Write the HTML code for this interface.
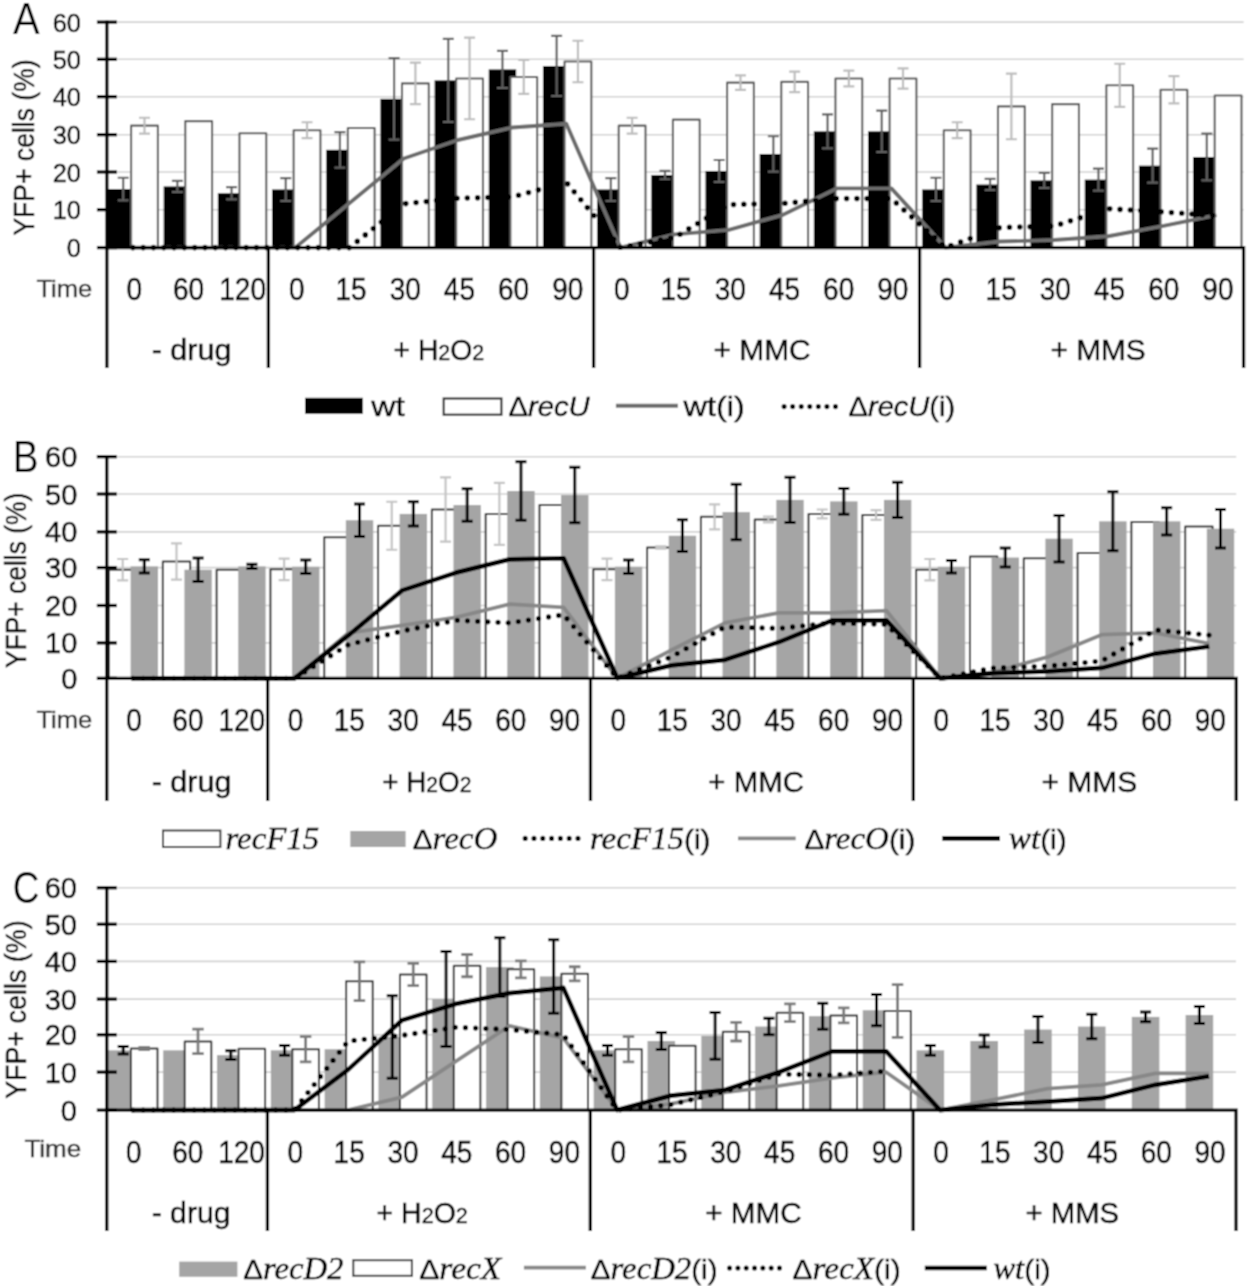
<!DOCTYPE html><html><head><meta charset="utf-8"><style>html,body{margin:0;padding:0;background:#fff;}svg{display:block;}</style></head><body>
<svg width="1248" height="1286" viewBox="0 0 1248 1286">
<defs><filter id="bl" x="0" y="0" width="1248" height="1286" filterUnits="userSpaceOnUse"><feConvolveMatrix order="3" kernelMatrix="1 2 1 2 4 2 1 2 1" divisor="16" edgeMode="duplicate"/></filter></defs>
<g filter="url(#bl)">
<style>text{stroke:currentColor;stroke-width:0.45px;}</style>
<rect width="1248" height="1286" fill="#fff"/>
<line x1="105.80" y1="209.70" x2="1243.58" y2="209.70" stroke="#d2d2d2" stroke-width="1.6"/>
<line x1="105.80" y1="172.00" x2="1243.58" y2="172.00" stroke="#d2d2d2" stroke-width="1.6"/>
<line x1="105.80" y1="134.70" x2="1243.58" y2="134.70" stroke="#d2d2d2" stroke-width="1.6"/>
<line x1="105.80" y1="96.70" x2="1243.58" y2="96.70" stroke="#d2d2d2" stroke-width="1.6"/>
<line x1="105.80" y1="59.30" x2="1243.58" y2="59.30" stroke="#d2d2d2" stroke-width="1.6"/>
<line x1="105.80" y1="22.10" x2="1243.58" y2="22.10" stroke="#d2d2d2" stroke-width="1.6"/>
<rect x="106.90" y="189.09" width="30.00" height="58.51" fill="#000"/>
<rect x="163.68" y="186.44" width="27.40" height="61.16" fill="#000"/>
<rect x="217.86" y="193.24" width="27.40" height="54.36" fill="#000"/>
<rect x="272.04" y="189.47" width="27.40" height="58.13" fill="#000"/>
<rect x="326.22" y="149.83" width="27.40" height="97.77" fill="#000"/>
<rect x="380.40" y="98.87" width="27.40" height="148.73" fill="#000"/>
<rect x="434.58" y="80.37" width="27.40" height="167.23" fill="#000"/>
<rect x="488.76" y="69.42" width="27.40" height="178.18" fill="#000"/>
<rect x="542.94" y="66.02" width="27.40" height="181.58" fill="#000"/>
<rect x="597.12" y="189.47" width="27.40" height="58.13" fill="#000"/>
<rect x="651.30" y="175.12" width="27.40" height="72.48" fill="#000"/>
<rect x="705.48" y="170.97" width="27.40" height="76.63" fill="#000"/>
<rect x="759.66" y="153.98" width="27.40" height="93.62" fill="#000"/>
<rect x="813.84" y="131.33" width="27.40" height="116.27" fill="#000"/>
<rect x="868.02" y="131.33" width="27.40" height="116.27" fill="#000"/>
<rect x="922.20" y="189.47" width="27.40" height="58.13" fill="#000"/>
<rect x="976.38" y="184.56" width="27.40" height="63.04" fill="#000"/>
<rect x="1030.56" y="180.40" width="27.40" height="67.20" fill="#000"/>
<rect x="1084.74" y="179.65" width="27.40" height="67.95" fill="#000"/>
<rect x="1138.92" y="165.68" width="27.40" height="81.92" fill="#000"/>
<rect x="1193.10" y="157.00" width="27.40" height="90.60" fill="#000"/>
<path d="M123.20 177.76V200.41M117.70 177.76H128.70M117.70 200.41H128.70" stroke="#5f5f5f" stroke-width="2.2" fill="none"/>
<path d="M177.38 180.78V192.11M171.88 180.78H182.88M171.88 192.11H182.88" stroke="#5f5f5f" stroke-width="2.2" fill="none"/>
<path d="M231.56 187.20V199.28M226.06 187.20H237.06M226.06 199.28H237.06" stroke="#5f5f5f" stroke-width="2.2" fill="none"/>
<path d="M285.74 178.14V200.79M280.24 178.14H291.24M280.24 200.79H291.24" stroke="#5f5f5f" stroke-width="2.2" fill="none"/>
<path d="M339.92 132.09V167.57M334.42 132.09H345.42M334.42 167.57H345.42" stroke="#5f5f5f" stroke-width="2.2" fill="none"/>
<path d="M394.10 58.09V139.63M388.60 58.09H399.60M388.60 139.63H399.60" stroke="#5f5f5f" stroke-width="2.2" fill="none"/>
<path d="M448.28 38.84V121.89M442.78 38.84H453.78M442.78 121.89H453.78" stroke="#5f5f5f" stroke-width="2.2" fill="none"/>
<path d="M502.46 50.92V87.92M496.96 50.92H507.96M496.96 87.92H507.96" stroke="#5f5f5f" stroke-width="2.2" fill="none"/>
<path d="M556.64 35.82V96.22M551.14 35.82H562.14M551.14 96.22H562.14" stroke="#5f5f5f" stroke-width="2.2" fill="none"/>
<path d="M610.82 178.14V200.79M605.32 178.14H616.32M605.32 200.79H616.32" stroke="#5f5f5f" stroke-width="2.2" fill="none"/>
<path d="M665.00 170.97V179.27M659.50 170.97H670.50M659.50 179.27H670.50" stroke="#5f5f5f" stroke-width="2.2" fill="none"/>
<path d="M719.18 160.02V181.91M713.68 160.02H724.68M713.68 181.91H724.68" stroke="#5f5f5f" stroke-width="2.2" fill="none"/>
<path d="M773.36 136.24V171.72M767.86 136.24H778.86M767.86 171.72H778.86" stroke="#5f5f5f" stroke-width="2.2" fill="none"/>
<path d="M827.54 114.34V148.32M822.04 114.34H833.04M822.04 148.32H833.04" stroke="#5f5f5f" stroke-width="2.2" fill="none"/>
<path d="M881.72 110.57V152.09M876.22 110.57H887.22M876.22 152.09H887.22" stroke="#5f5f5f" stroke-width="2.2" fill="none"/>
<path d="M935.90 177.76V201.17M930.40 177.76H941.40M930.40 201.17H941.40" stroke="#5f5f5f" stroke-width="2.2" fill="none"/>
<path d="M990.08 178.89V190.22M984.58 178.89H995.58M984.58 190.22H995.58" stroke="#5f5f5f" stroke-width="2.2" fill="none"/>
<path d="M1044.26 172.85V187.95M1038.76 172.85H1049.76M1038.76 187.95H1049.76" stroke="#5f5f5f" stroke-width="2.2" fill="none"/>
<path d="M1098.44 168.70V190.60M1092.94 168.70H1103.94M1092.94 190.60H1103.94" stroke="#5f5f5f" stroke-width="2.2" fill="none"/>
<path d="M1152.62 148.69V182.67M1147.12 148.69H1158.12M1147.12 182.67H1158.12" stroke="#5f5f5f" stroke-width="2.2" fill="none"/>
<path d="M1206.80 133.59V180.40M1201.30 133.59H1212.30M1201.30 180.40H1212.30" stroke="#5f5f5f" stroke-width="2.2" fill="none"/>
<rect x="131.10" y="125.67" width="26.80" height="121.93" fill="#fff" stroke="#5c5c5c" stroke-width="2.1" stroke-linejoin="round"/>
<rect x="185.28" y="121.14" width="26.80" height="126.46" fill="#fff" stroke="#5c5c5c" stroke-width="2.1" stroke-linejoin="round"/>
<rect x="239.46" y="133.22" width="26.80" height="114.38" fill="#fff" stroke="#5c5c5c" stroke-width="2.1" stroke-linejoin="round"/>
<rect x="293.64" y="130.20" width="26.80" height="117.40" fill="#fff" stroke="#5c5c5c" stroke-width="2.1" stroke-linejoin="round"/>
<rect x="347.82" y="127.93" width="26.80" height="119.67" fill="#fff" stroke="#5c5c5c" stroke-width="2.1" stroke-linejoin="round"/>
<rect x="402.00" y="83.39" width="26.80" height="164.21" fill="#fff" stroke="#5c5c5c" stroke-width="2.1" stroke-linejoin="round"/>
<rect x="456.18" y="78.48" width="26.80" height="169.12" fill="#fff" stroke="#5c5c5c" stroke-width="2.1" stroke-linejoin="round"/>
<rect x="510.36" y="76.97" width="26.80" height="170.63" fill="#fff" stroke="#5c5c5c" stroke-width="2.1" stroke-linejoin="round"/>
<rect x="564.54" y="61.49" width="26.80" height="186.11" fill="#fff" stroke="#5c5c5c" stroke-width="2.1" stroke-linejoin="round"/>
<rect x="618.72" y="125.67" width="26.80" height="121.93" fill="#fff" stroke="#5c5c5c" stroke-width="2.1" stroke-linejoin="round"/>
<rect x="672.90" y="119.63" width="26.80" height="127.97" fill="#fff" stroke="#5c5c5c" stroke-width="2.1" stroke-linejoin="round"/>
<rect x="727.08" y="82.63" width="26.80" height="164.97" fill="#fff" stroke="#5c5c5c" stroke-width="2.1" stroke-linejoin="round"/>
<rect x="781.26" y="81.88" width="26.80" height="165.72" fill="#fff" stroke="#5c5c5c" stroke-width="2.1" stroke-linejoin="round"/>
<rect x="835.44" y="78.48" width="26.80" height="169.12" fill="#fff" stroke="#5c5c5c" stroke-width="2.1" stroke-linejoin="round"/>
<rect x="889.62" y="78.48" width="26.80" height="169.12" fill="#fff" stroke="#5c5c5c" stroke-width="2.1" stroke-linejoin="round"/>
<rect x="943.80" y="130.20" width="26.80" height="117.40" fill="#fff" stroke="#5c5c5c" stroke-width="2.1" stroke-linejoin="round"/>
<rect x="997.98" y="106.41" width="26.80" height="141.19" fill="#fff" stroke="#5c5c5c" stroke-width="2.1" stroke-linejoin="round"/>
<rect x="1052.16" y="104.15" width="26.80" height="143.45" fill="#fff" stroke="#5c5c5c" stroke-width="2.1" stroke-linejoin="round"/>
<rect x="1106.34" y="85.28" width="26.80" height="162.32" fill="#fff" stroke="#5c5c5c" stroke-width="2.1" stroke-linejoin="round"/>
<rect x="1160.52" y="89.81" width="26.80" height="157.79" fill="#fff" stroke="#5c5c5c" stroke-width="2.1" stroke-linejoin="round"/>
<rect x="1214.70" y="95.47" width="26.80" height="152.13" fill="#fff" stroke="#5c5c5c" stroke-width="2.1" stroke-linejoin="round"/>
<path d="M144.50 117.74V133.60M139.00 117.74H150.00M139.00 133.60H150.00" stroke="#bdbdbd" stroke-width="2.2" fill="none"/>
<path d="M307.04 122.27V138.12M301.54 122.27H312.54M301.54 138.12H312.54" stroke="#bdbdbd" stroke-width="2.2" fill="none"/>
<path d="M415.40 62.62V104.15M409.90 62.62H420.90M409.90 104.15H420.90" stroke="#bdbdbd" stroke-width="2.2" fill="none"/>
<path d="M469.58 37.71V119.25M464.08 37.71H475.08M464.08 119.25H475.08" stroke="#bdbdbd" stroke-width="2.2" fill="none"/>
<path d="M523.76 59.98V93.96M518.26 59.98H529.26M518.26 93.96H529.26" stroke="#bdbdbd" stroke-width="2.2" fill="none"/>
<path d="M577.94 40.73V82.25M572.44 40.73H583.44M572.44 82.25H583.44" stroke="#bdbdbd" stroke-width="2.2" fill="none"/>
<path d="M632.12 117.74V133.60M626.62 117.74H637.62M626.62 133.60H637.62" stroke="#bdbdbd" stroke-width="2.2" fill="none"/>
<path d="M740.48 75.46V89.80M734.98 75.46H745.98M734.98 89.80H745.98" stroke="#bdbdbd" stroke-width="2.2" fill="none"/>
<path d="M794.66 71.69V92.07M789.16 71.69H800.16M789.16 92.07H800.16" stroke="#bdbdbd" stroke-width="2.2" fill="none"/>
<path d="M848.84 70.55V86.41M843.34 70.55H854.34M843.34 86.41H854.34" stroke="#bdbdbd" stroke-width="2.2" fill="none"/>
<path d="M903.02 68.29V88.67M897.52 68.29H908.52M897.52 88.67H908.52" stroke="#bdbdbd" stroke-width="2.2" fill="none"/>
<path d="M957.20 122.27V138.12M951.70 122.27H962.70M951.70 138.12H962.70" stroke="#bdbdbd" stroke-width="2.2" fill="none"/>
<path d="M1011.38 73.57V139.26M1005.88 73.57H1016.88M1005.88 139.26H1016.88" stroke="#bdbdbd" stroke-width="2.2" fill="none"/>
<path d="M1119.74 63.76V106.79M1114.24 63.76H1125.24M1114.24 106.79H1125.24" stroke="#bdbdbd" stroke-width="2.2" fill="none"/>
<path d="M1173.92 76.22V103.40M1168.42 76.22H1179.42M1168.42 103.40H1179.42" stroke="#bdbdbd" stroke-width="2.2" fill="none"/>
<path d="M132.89 247.60 L187.07 247.60 L241.25 247.60 L295.43 247.60 L349.61 203.06 L403.79 158.51 L457.97 140.01 L512.15 127.55 L566.33 123.78 L620.51 247.60 L674.69 234.39 L728.87 229.86 L783.05 214.76 L837.23 188.33 L891.41 188.33 L945.59 247.60 L999.77 241.56 L1053.95 240.05 L1108.13 236.28 L1162.31 226.08 L1216.49 215.13" stroke="#6c6c6c" stroke-width="3.9" fill="none" stroke-linejoin="round"/>
<path d="M132.89 247.60 L187.07 247.60 L241.25 247.60 L295.43 247.60 L349.61 247.60 L403.79 203.81 L457.97 198.15 L512.15 197.01 L566.33 182.29 L620.51 247.60 L674.69 237.41 L728.87 204.56 L783.05 203.43 L837.23 198.53 L891.41 198.53 L945.59 247.60 L999.77 227.59 L1053.95 226.08 L1108.13 208.72 L1162.31 211.74 L1216.49 215.89" stroke="#000" stroke-width="5.6" fill="none" stroke-linecap="round" stroke-linejoin="round" stroke-dasharray="0 10.3"/>
<path d="M106.90 20.60V368.00M106.90 247.60H1243.58V368.00" stroke="#000" stroke-width="3.3" fill="none"/>
<line x1="268.40" y1="247.60" x2="268.40" y2="368.00" stroke="#000" stroke-width="3.3"/>
<line x1="593.60" y1="247.60" x2="593.60" y2="368.00" stroke="#000" stroke-width="3.3"/>
<line x1="919.60" y1="247.60" x2="919.60" y2="368.00" stroke="#000" stroke-width="3.3"/>
<line x1="96.90" y1="247.60" x2="116.90" y2="247.60" stroke="#000" stroke-width="3.3"/>
<line x1="96.90" y1="209.70" x2="116.90" y2="209.70" stroke="#000" stroke-width="3.3"/>
<line x1="96.90" y1="172.00" x2="116.90" y2="172.00" stroke="#000" stroke-width="3.3"/>
<line x1="96.90" y1="134.70" x2="116.90" y2="134.70" stroke="#000" stroke-width="3.3"/>
<line x1="96.90" y1="96.70" x2="116.90" y2="96.70" stroke="#000" stroke-width="3.3"/>
<line x1="96.90" y1="59.30" x2="116.90" y2="59.30" stroke="#000" stroke-width="3.3"/>
<line x1="96.90" y1="22.10" x2="116.90" y2="22.10" stroke="#000" stroke-width="3.3"/>
<text x="80.80" y="257.36" font-family="Liberation Sans" font-size="25.3" text-anchor="end">0</text>
<text x="80.80" y="219.46" font-family="Liberation Sans" font-size="25.3" text-anchor="end">10</text>
<text x="80.80" y="181.76" font-family="Liberation Sans" font-size="25.3" text-anchor="end">20</text>
<text x="80.80" y="144.46" font-family="Liberation Sans" font-size="25.3" text-anchor="end">30</text>
<text x="80.80" y="106.46" font-family="Liberation Sans" font-size="25.3" text-anchor="end">40</text>
<text x="80.80" y="69.06" font-family="Liberation Sans" font-size="25.3" text-anchor="end">50</text>
<text x="80.80" y="31.86" font-family="Liberation Sans" font-size="25.3" text-anchor="end">60</text>
<text transform="translate(134.29,299.90) scale(1,1.15)" font-family="Liberation Sans" font-size="28" fill="#000" text-anchor="middle">0</text>
<text transform="translate(188.47,299.90) scale(1,1.15)" font-family="Liberation Sans" font-size="28" fill="#000" text-anchor="middle">60</text>
<text transform="translate(242.65,299.90) scale(1,1.15)" font-family="Liberation Sans" font-size="28" fill="#000" text-anchor="middle">120</text>
<text transform="translate(296.83,299.90) scale(1,1.15)" font-family="Liberation Sans" font-size="28" fill="#000" text-anchor="middle">0</text>
<text transform="translate(351.01,299.90) scale(1,1.15)" font-family="Liberation Sans" font-size="28" fill="#000" text-anchor="middle">15</text>
<text transform="translate(405.19,299.90) scale(1,1.15)" font-family="Liberation Sans" font-size="28" fill="#000" text-anchor="middle">30</text>
<text transform="translate(459.37,299.90) scale(1,1.15)" font-family="Liberation Sans" font-size="28" fill="#000" text-anchor="middle">45</text>
<text transform="translate(513.55,299.90) scale(1,1.15)" font-family="Liberation Sans" font-size="28" fill="#000" text-anchor="middle">60</text>
<text transform="translate(567.73,299.90) scale(1,1.15)" font-family="Liberation Sans" font-size="28" fill="#000" text-anchor="middle">90</text>
<text transform="translate(621.91,299.90) scale(1,1.15)" font-family="Liberation Sans" font-size="28" fill="#000" text-anchor="middle">0</text>
<text transform="translate(676.09,299.90) scale(1,1.15)" font-family="Liberation Sans" font-size="28" fill="#000" text-anchor="middle">15</text>
<text transform="translate(730.27,299.90) scale(1,1.15)" font-family="Liberation Sans" font-size="28" fill="#000" text-anchor="middle">30</text>
<text transform="translate(784.45,299.90) scale(1,1.15)" font-family="Liberation Sans" font-size="28" fill="#000" text-anchor="middle">45</text>
<text transform="translate(838.63,299.90) scale(1,1.15)" font-family="Liberation Sans" font-size="28" fill="#000" text-anchor="middle">60</text>
<text transform="translate(892.81,299.90) scale(1,1.15)" font-family="Liberation Sans" font-size="28" fill="#000" text-anchor="middle">90</text>
<text transform="translate(946.99,299.90) scale(1,1.15)" font-family="Liberation Sans" font-size="28" fill="#000" text-anchor="middle">0</text>
<text transform="translate(1001.17,299.90) scale(1,1.15)" font-family="Liberation Sans" font-size="28" fill="#000" text-anchor="middle">15</text>
<text transform="translate(1055.35,299.90) scale(1,1.15)" font-family="Liberation Sans" font-size="28" fill="#000" text-anchor="middle">30</text>
<text transform="translate(1109.53,299.90) scale(1,1.15)" font-family="Liberation Sans" font-size="28" fill="#000" text-anchor="middle">45</text>
<text transform="translate(1163.71,299.90) scale(1,1.15)" font-family="Liberation Sans" font-size="28" fill="#000" text-anchor="middle">60</text>
<text transform="translate(1217.89,299.90) scale(1,1.15)" font-family="Liberation Sans" font-size="28" fill="#000" text-anchor="middle">90</text>
<text x="36.44" y="296.70" font-family="Liberation Sans" font-size="24.5" fill="#333" textLength="55.79" lengthAdjust="spacingAndGlyphs" style="stroke:#333">Time</text>
<text x="151.66" y="359.90" font-family="Liberation Sans" font-size="29" fill="#000" textLength="79.71" lengthAdjust="spacingAndGlyphs" >- drug</text>
<text x="393.51" y="359.90" font-family="Liberation Sans" font-size="29" fill="#000" textLength="44.85" lengthAdjust="spacingAndGlyphs" >+ H</text>
<text x="438.36" y="359.90" font-family="Liberation Sans" font-size="22" fill="#000" textLength="11.95" lengthAdjust="spacingAndGlyphs" >2</text>
<text x="450.31" y="359.90" font-family="Liberation Sans" font-size="29" fill="#000" textLength="22.02" lengthAdjust="spacingAndGlyphs" >O</text>
<text x="472.33" y="359.90" font-family="Liberation Sans" font-size="22" fill="#000" textLength="11.95" lengthAdjust="spacingAndGlyphs" >2</text>
<text x="713.64" y="359.90" font-family="Liberation Sans" font-size="29" fill="#000" textLength="96.89" lengthAdjust="spacingAndGlyphs" >+ MMC</text>
<text x="1050.44" y="359.90" font-family="Liberation Sans" font-size="29" fill="#000" textLength="95.33" lengthAdjust="spacingAndGlyphs" >+ MMS</text>
<text x="12.92" y="34.20" font-family="Liberation Sans" font-size="44" fill="#000" textLength="26.66" lengthAdjust="spacingAndGlyphs" style="stroke:none">A</text>
<text transform="translate(34.30,235.60) rotate(-90)" x="0" y="0" font-family="Liberation Sans" font-size="30" textLength="176.20" lengthAdjust="spacingAndGlyphs">YFP+ cells (%)</text>
<line x1="106.20" y1="642.90" x2="1236.21" y2="642.90" stroke="#d2d2d2" stroke-width="1.6"/>
<line x1="106.20" y1="605.50" x2="1236.21" y2="605.50" stroke="#d2d2d2" stroke-width="1.6"/>
<line x1="106.20" y1="567.60" x2="1236.21" y2="567.60" stroke="#d2d2d2" stroke-width="1.6"/>
<line x1="106.20" y1="531.90" x2="1236.21" y2="531.90" stroke="#d2d2d2" stroke-width="1.6"/>
<line x1="106.20" y1="494.00" x2="1236.21" y2="494.00" stroke="#d2d2d2" stroke-width="1.6"/>
<line x1="106.20" y1="456.70" x2="1236.21" y2="456.70" stroke="#d2d2d2" stroke-width="1.6"/>
<rect x="109.00" y="569.70" width="27.40" height="108.60" fill="#fff" stroke="#303030" stroke-width="2.0" stroke-linejoin="round"/>
<rect x="162.81" y="561.57" width="27.40" height="116.73" fill="#fff" stroke="#303030" stroke-width="2.0" stroke-linejoin="round"/>
<rect x="216.62" y="569.70" width="27.40" height="108.60" fill="#fff" stroke="#303030" stroke-width="2.0" stroke-linejoin="round"/>
<rect x="270.43" y="569.33" width="27.40" height="108.97" fill="#fff" stroke="#303030" stroke-width="2.0" stroke-linejoin="round"/>
<rect x="324.24" y="537.19" width="27.40" height="141.11" fill="#fff" stroke="#303030" stroke-width="2.0" stroke-linejoin="round"/>
<rect x="378.05" y="525.74" width="27.40" height="152.56" fill="#fff" stroke="#303030" stroke-width="2.0" stroke-linejoin="round"/>
<rect x="431.86" y="509.48" width="27.40" height="168.82" fill="#fff" stroke="#303030" stroke-width="2.0" stroke-linejoin="round"/>
<rect x="485.67" y="513.92" width="27.40" height="164.38" fill="#fff" stroke="#303030" stroke-width="2.0" stroke-linejoin="round"/>
<rect x="539.48" y="505.05" width="27.40" height="173.25" fill="#fff" stroke="#303030" stroke-width="2.0" stroke-linejoin="round"/>
<rect x="593.29" y="569.33" width="27.40" height="108.97" fill="#fff" stroke="#303030" stroke-width="2.0" stroke-linejoin="round"/>
<rect x="647.10" y="547.53" width="27.40" height="130.77" fill="#fff" stroke="#303030" stroke-width="2.0" stroke-linejoin="round"/>
<rect x="700.91" y="516.87" width="27.40" height="161.43" fill="#fff" stroke="#303030" stroke-width="2.0" stroke-linejoin="round"/>
<rect x="754.72" y="519.46" width="27.40" height="158.84" fill="#fff" stroke="#303030" stroke-width="2.0" stroke-linejoin="round"/>
<rect x="808.53" y="513.92" width="27.40" height="164.38" fill="#fff" stroke="#303030" stroke-width="2.0" stroke-linejoin="round"/>
<rect x="862.34" y="515.03" width="27.40" height="163.27" fill="#fff" stroke="#303030" stroke-width="2.0" stroke-linejoin="round"/>
<rect x="916.15" y="569.70" width="27.40" height="108.60" fill="#fff" stroke="#303030" stroke-width="2.0" stroke-linejoin="round"/>
<rect x="969.96" y="556.40" width="27.40" height="121.90" fill="#fff" stroke="#303030" stroke-width="2.0" stroke-linejoin="round"/>
<rect x="1023.77" y="558.25" width="27.40" height="120.05" fill="#fff" stroke="#303030" stroke-width="2.0" stroke-linejoin="round"/>
<rect x="1077.58" y="553.07" width="27.40" height="125.23" fill="#fff" stroke="#303030" stroke-width="2.0" stroke-linejoin="round"/>
<rect x="1131.39" y="522.04" width="27.40" height="156.26" fill="#fff" stroke="#303030" stroke-width="2.0" stroke-linejoin="round"/>
<rect x="1185.20" y="526.48" width="27.40" height="151.82" fill="#fff" stroke="#303030" stroke-width="2.0" stroke-linejoin="round"/>
<path d="M122.70 558.98V580.41M117.20 558.98H128.20M117.20 580.41H128.20" stroke="#c4c4c4" stroke-width="2.2" fill="none"/>
<path d="M176.51 543.47V579.67M171.01 543.47H182.01M171.01 579.67H182.01" stroke="#c4c4c4" stroke-width="2.2" fill="none"/>
<path d="M284.13 558.61V580.04M278.63 558.61H289.63M278.63 580.04H289.63" stroke="#c4c4c4" stroke-width="2.2" fill="none"/>
<path d="M391.75 501.73V549.75M386.25 501.73H397.25M386.25 549.75H397.25" stroke="#c4c4c4" stroke-width="2.2" fill="none"/>
<path d="M445.56 477.35V541.62M440.06 477.35H451.06M440.06 541.62H451.06" stroke="#c4c4c4" stroke-width="2.2" fill="none"/>
<path d="M499.37 482.89V544.95M493.87 482.89H504.87M493.87 544.95H504.87" stroke="#c4c4c4" stroke-width="2.2" fill="none"/>
<path d="M606.99 558.61V580.04M601.49 558.61H612.49M601.49 580.04H612.49" stroke="#c4c4c4" stroke-width="2.2" fill="none"/>
<path d="M660.80 546.42V548.64M655.30 546.42H666.30M655.30 548.64H666.30" stroke="#c4c4c4" stroke-width="2.2" fill="none"/>
<path d="M714.61 504.31V529.43M709.11 504.31H720.11M709.11 529.43H720.11" stroke="#c4c4c4" stroke-width="2.2" fill="none"/>
<path d="M768.42 516.50V522.41M762.92 516.50H773.92M762.92 522.41H773.92" stroke="#c4c4c4" stroke-width="2.2" fill="none"/>
<path d="M822.23 509.48V518.35M816.73 509.48H827.73M816.73 518.35H827.73" stroke="#c4c4c4" stroke-width="2.2" fill="none"/>
<path d="M876.04 510.22V519.83M870.54 510.22H881.54M870.54 519.83H881.54" stroke="#c4c4c4" stroke-width="2.2" fill="none"/>
<path d="M929.85 558.98V580.41M924.35 558.98H935.35M924.35 580.41H935.35" stroke="#c4c4c4" stroke-width="2.2" fill="none"/>
<rect x="130.60" y="566.37" width="27.40" height="111.93" fill="#a5a5a5"/>
<rect x="184.41" y="569.70" width="27.40" height="108.60" fill="#a5a5a5"/>
<rect x="238.22" y="566.37" width="27.40" height="111.93" fill="#a5a5a5"/>
<rect x="292.03" y="566.74" width="27.40" height="111.56" fill="#a5a5a5"/>
<rect x="345.84" y="520.20" width="27.40" height="158.10" fill="#a5a5a5"/>
<rect x="399.65" y="513.92" width="27.40" height="164.38" fill="#a5a5a5"/>
<rect x="453.46" y="505.05" width="27.40" height="173.25" fill="#a5a5a5"/>
<rect x="507.27" y="491.01" width="27.40" height="187.29" fill="#a5a5a5"/>
<rect x="561.08" y="495.08" width="27.40" height="183.22" fill="#a5a5a5"/>
<rect x="614.89" y="566.74" width="27.40" height="111.56" fill="#a5a5a5"/>
<rect x="668.70" y="535.71" width="27.40" height="142.59" fill="#a5a5a5"/>
<rect x="722.51" y="512.07" width="27.40" height="166.23" fill="#a5a5a5"/>
<rect x="776.32" y="499.88" width="27.40" height="178.42" fill="#a5a5a5"/>
<rect x="830.13" y="501.36" width="27.40" height="176.94" fill="#a5a5a5"/>
<rect x="883.94" y="499.88" width="27.40" height="178.42" fill="#a5a5a5"/>
<rect x="937.75" y="566.74" width="27.40" height="111.56" fill="#a5a5a5"/>
<rect x="991.56" y="557.51" width="27.40" height="120.79" fill="#a5a5a5"/>
<rect x="1045.37" y="538.67" width="27.40" height="139.63" fill="#a5a5a5"/>
<rect x="1099.18" y="521.30" width="27.40" height="157.00" fill="#a5a5a5"/>
<rect x="1152.99" y="521.30" width="27.40" height="157.00" fill="#a5a5a5"/>
<rect x="1206.80" y="528.69" width="27.40" height="149.61" fill="#a5a5a5"/>
<path d="M144.30 559.72V573.02M138.80 559.72H149.80M138.80 573.02H149.80" stroke="#000" stroke-width="3.0" fill="none"/>
<path d="M198.11 557.88V581.52M192.61 557.88H203.61M192.61 581.52H203.61" stroke="#000" stroke-width="3.0" fill="none"/>
<path d="M251.92 564.34V568.40M246.42 564.34H257.42M246.42 568.40H257.42" stroke="#000" stroke-width="3.0" fill="none"/>
<path d="M305.73 560.09V573.39M300.23 560.09H311.23M300.23 573.39H311.23" stroke="#000" stroke-width="3.0" fill="none"/>
<path d="M359.54 503.94V536.45M354.04 503.94H365.04M354.04 536.45H365.04" stroke="#000" stroke-width="3.0" fill="none"/>
<path d="M413.35 501.73V526.11M407.85 501.73H418.85M407.85 526.11H418.85" stroke="#000" stroke-width="3.0" fill="none"/>
<path d="M467.16 488.80V521.30M461.66 488.80H472.66M461.66 521.30H472.66" stroke="#000" stroke-width="3.0" fill="none"/>
<path d="M520.97 461.83V520.20M515.47 461.83H526.47M515.47 520.20H526.47" stroke="#000" stroke-width="3.0" fill="none"/>
<path d="M574.78 467.37V522.78M569.28 467.37H580.28M569.28 522.78H580.28" stroke="#000" stroke-width="3.0" fill="none"/>
<path d="M628.59 560.09V573.39M623.09 560.09H634.09M623.09 573.39H634.09" stroke="#000" stroke-width="3.0" fill="none"/>
<path d="M682.40 519.83V551.60M676.90 519.83H687.90M676.90 551.60H687.90" stroke="#000" stroke-width="3.0" fill="none"/>
<path d="M736.21 484.36V539.77M730.71 484.36H741.71M730.71 539.77H741.71" stroke="#000" stroke-width="3.0" fill="none"/>
<path d="M790.02 477.35V522.41M784.52 477.35H795.52M784.52 522.41H795.52" stroke="#000" stroke-width="3.0" fill="none"/>
<path d="M843.83 488.43V514.29M838.33 488.43H849.33M838.33 514.29H849.33" stroke="#000" stroke-width="3.0" fill="none"/>
<path d="M897.64 482.15V517.61M892.14 482.15H903.14M892.14 517.61H903.14" stroke="#000" stroke-width="3.0" fill="none"/>
<path d="M951.45 560.46V573.02M945.95 560.46H956.95M945.95 573.02H956.95" stroke="#000" stroke-width="3.0" fill="none"/>
<path d="M1005.26 547.90V567.11M999.76 547.90H1010.76M999.76 567.11H1010.76" stroke="#000" stroke-width="3.0" fill="none"/>
<path d="M1059.07 515.39V561.94M1053.57 515.39H1064.57M1053.57 561.94H1064.57" stroke="#000" stroke-width="3.0" fill="none"/>
<path d="M1112.88 491.75V550.86M1107.38 491.75H1118.38M1107.38 550.86H1118.38" stroke="#000" stroke-width="3.0" fill="none"/>
<path d="M1166.69 507.64V534.97M1161.19 507.64H1172.19M1161.19 534.97H1172.19" stroke="#000" stroke-width="3.0" fill="none"/>
<path d="M1220.50 509.48V547.90M1215.00 509.48H1226.00M1215.00 547.90H1226.00" stroke="#000" stroke-width="3.0" fill="none"/>
<path d="M133.11 678.30 L186.92 678.30 L240.73 678.30 L294.54 678.30 L348.35 632.86 L402.16 625.48 L455.96 617.35 L509.78 604.05 L563.59 607.38 L617.40 678.30 L671.21 650.23 L725.02 622.89 L778.83 612.92 L832.64 612.92 L886.45 610.70 L940.26 678.30 L994.07 672.02 L1047.88 656.87 L1101.68 634.71 L1155.50 632.86 L1209.31 643.58" stroke="#888888" stroke-width="3.8" fill="none" stroke-linejoin="round"/>
<path d="M133.11 678.30 L186.92 678.30 L240.73 678.30 L294.54 678.30 L348.35 644.68 L402.16 631.02 L455.96 620.30 L509.78 622.89 L563.59 614.76 L617.40 678.30 L671.21 656.87 L725.02 626.95 L778.83 628.43 L832.64 622.89 L886.45 624.37 L940.26 678.30 L994.07 667.96 L1047.88 666.11 L1101.68 660.94 L1155.50 629.91 L1209.31 635.08" stroke="#000" stroke-width="5.3" fill="none" stroke-linecap="round" stroke-linejoin="round" stroke-dasharray="0 10.2"/>
<path d="M133.11 678.30 L186.92 678.30 L240.73 678.30 L294.54 678.30 L348.35 635.45 L402.16 590.38 L455.96 572.65 L509.78 559.35 L563.59 558.25 L617.40 678.30 L671.21 665.37 L725.02 659.83 L778.83 642.10 L832.64 620.30 L886.45 620.30 L940.26 678.30 L994.07 673.13 L1047.88 671.28 L1101.68 667.96 L1155.50 653.55 L1209.31 646.53" stroke="#000" stroke-width="4.7" fill="none" stroke-linejoin="round"/>
<path d="M106.80 455.20V801.00M106.80 678.30H1236.21V801.00" stroke="#000" stroke-width="3.3" fill="none"/>
<line x1="267.63" y1="678.30" x2="267.63" y2="801.00" stroke="#000" stroke-width="3.3"/>
<line x1="590.49" y1="678.30" x2="590.49" y2="801.00" stroke="#000" stroke-width="3.3"/>
<line x1="913.35" y1="678.30" x2="913.35" y2="801.00" stroke="#000" stroke-width="3.3"/>
<line x1="96.80" y1="678.30" x2="116.80" y2="678.30" stroke="#000" stroke-width="3.3"/>
<line x1="96.80" y1="642.90" x2="116.80" y2="642.90" stroke="#000" stroke-width="3.3"/>
<line x1="96.80" y1="605.50" x2="116.80" y2="605.50" stroke="#000" stroke-width="3.3"/>
<line x1="96.80" y1="567.60" x2="116.80" y2="567.60" stroke="#000" stroke-width="3.3"/>
<line x1="96.80" y1="531.90" x2="116.80" y2="531.90" stroke="#000" stroke-width="3.3"/>
<line x1="96.80" y1="494.00" x2="116.80" y2="494.00" stroke="#000" stroke-width="3.3"/>
<line x1="96.80" y1="456.70" x2="116.80" y2="456.70" stroke="#000" stroke-width="3.3"/>
<text x="77.30" y="688.87" font-family="Liberation Sans" font-size="29" text-anchor="end">0</text>
<text x="77.30" y="653.47" font-family="Liberation Sans" font-size="29" text-anchor="end">10</text>
<text x="77.30" y="616.07" font-family="Liberation Sans" font-size="29" text-anchor="end">20</text>
<text x="77.30" y="578.17" font-family="Liberation Sans" font-size="29" text-anchor="end">30</text>
<text x="77.30" y="542.47" font-family="Liberation Sans" font-size="29" text-anchor="end">40</text>
<text x="77.30" y="504.57" font-family="Liberation Sans" font-size="29" text-anchor="end">50</text>
<text x="77.30" y="467.27" font-family="Liberation Sans" font-size="29" text-anchor="end">60</text>
<text transform="translate(134.11,731.30) scale(1,1.15)" font-family="Liberation Sans" font-size="28" fill="#000" text-anchor="middle">0</text>
<text transform="translate(187.92,731.30) scale(1,1.15)" font-family="Liberation Sans" font-size="28" fill="#000" text-anchor="middle">60</text>
<text transform="translate(241.73,731.30) scale(1,1.15)" font-family="Liberation Sans" font-size="28" fill="#000" text-anchor="middle">120</text>
<text transform="translate(295.54,731.30) scale(1,1.15)" font-family="Liberation Sans" font-size="28" fill="#000" text-anchor="middle">0</text>
<text transform="translate(349.35,731.30) scale(1,1.15)" font-family="Liberation Sans" font-size="28" fill="#000" text-anchor="middle">15</text>
<text transform="translate(403.16,731.30) scale(1,1.15)" font-family="Liberation Sans" font-size="28" fill="#000" text-anchor="middle">30</text>
<text transform="translate(456.96,731.30) scale(1,1.15)" font-family="Liberation Sans" font-size="28" fill="#000" text-anchor="middle">45</text>
<text transform="translate(510.78,731.30) scale(1,1.15)" font-family="Liberation Sans" font-size="28" fill="#000" text-anchor="middle">60</text>
<text transform="translate(564.59,731.30) scale(1,1.15)" font-family="Liberation Sans" font-size="28" fill="#000" text-anchor="middle">90</text>
<text transform="translate(618.40,731.30) scale(1,1.15)" font-family="Liberation Sans" font-size="28" fill="#000" text-anchor="middle">0</text>
<text transform="translate(672.21,731.30) scale(1,1.15)" font-family="Liberation Sans" font-size="28" fill="#000" text-anchor="middle">15</text>
<text transform="translate(726.02,731.30) scale(1,1.15)" font-family="Liberation Sans" font-size="28" fill="#000" text-anchor="middle">30</text>
<text transform="translate(779.83,731.30) scale(1,1.15)" font-family="Liberation Sans" font-size="28" fill="#000" text-anchor="middle">45</text>
<text transform="translate(833.64,731.30) scale(1,1.15)" font-family="Liberation Sans" font-size="28" fill="#000" text-anchor="middle">60</text>
<text transform="translate(887.45,731.30) scale(1,1.15)" font-family="Liberation Sans" font-size="28" fill="#000" text-anchor="middle">90</text>
<text transform="translate(941.26,731.30) scale(1,1.15)" font-family="Liberation Sans" font-size="28" fill="#000" text-anchor="middle">0</text>
<text transform="translate(995.07,731.30) scale(1,1.15)" font-family="Liberation Sans" font-size="28" fill="#000" text-anchor="middle">15</text>
<text transform="translate(1048.88,731.30) scale(1,1.15)" font-family="Liberation Sans" font-size="28" fill="#000" text-anchor="middle">30</text>
<text transform="translate(1102.68,731.30) scale(1,1.15)" font-family="Liberation Sans" font-size="28" fill="#000" text-anchor="middle">45</text>
<text transform="translate(1156.50,731.30) scale(1,1.15)" font-family="Liberation Sans" font-size="28" fill="#000" text-anchor="middle">60</text>
<text transform="translate(1210.31,731.30) scale(1,1.15)" font-family="Liberation Sans" font-size="28" fill="#000" text-anchor="middle">90</text>
<text x="36.44" y="728.00" font-family="Liberation Sans" font-size="24.5" fill="#333" textLength="55.79" lengthAdjust="spacingAndGlyphs" style="stroke:#333">Time</text>
<text x="151.66" y="791.90" font-family="Liberation Sans" font-size="29" fill="#000" textLength="79.71" lengthAdjust="spacingAndGlyphs" >- drug</text>
<text x="382.34" y="791.90" font-family="Liberation Sans" font-size="29" fill="#000" textLength="43.99" lengthAdjust="spacingAndGlyphs" >+ H</text>
<text x="426.32" y="791.90" font-family="Liberation Sans" font-size="22" fill="#000" textLength="11.72" lengthAdjust="spacingAndGlyphs" >2</text>
<text x="438.04" y="791.90" font-family="Liberation Sans" font-size="29" fill="#000" textLength="21.60" lengthAdjust="spacingAndGlyphs" >O</text>
<text x="459.64" y="791.90" font-family="Liberation Sans" font-size="22" fill="#000" textLength="11.72" lengthAdjust="spacingAndGlyphs" >2</text>
<text x="708.36" y="791.90" font-family="Liberation Sans" font-size="29" fill="#000" textLength="95.56" lengthAdjust="spacingAndGlyphs" >+ MMC</text>
<text x="1041.53" y="791.90" font-family="Liberation Sans" font-size="29" fill="#000" textLength="95.85" lengthAdjust="spacingAndGlyphs" >+ MMS</text>
<text x="12.82" y="472.30" font-family="Liberation Sans" font-size="43.5" fill="#000" textLength="25.83" lengthAdjust="spacingAndGlyphs" style="stroke:none">B</text>
<text transform="translate(26.20,668.00) rotate(-90)" x="0" y="0" font-family="Liberation Sans" font-size="30" textLength="175.30" lengthAdjust="spacingAndGlyphs">YFP+ cells (%)</text>
<line x1="106.00" y1="1072.10" x2="1236.01" y2="1072.10" stroke="#d2d2d2" stroke-width="1.6"/>
<line x1="106.00" y1="1034.80" x2="1236.01" y2="1034.80" stroke="#d2d2d2" stroke-width="1.6"/>
<line x1="106.00" y1="999.10" x2="1236.01" y2="999.10" stroke="#d2d2d2" stroke-width="1.6"/>
<line x1="106.00" y1="961.40" x2="1236.01" y2="961.40" stroke="#d2d2d2" stroke-width="1.6"/>
<line x1="106.00" y1="924.20" x2="1236.01" y2="924.20" stroke="#d2d2d2" stroke-width="1.6"/>
<line x1="106.00" y1="887.80" x2="1236.01" y2="887.80" stroke="#d2d2d2" stroke-width="1.6"/>
<rect x="106.80" y="1050.30" width="30.20" height="59.80" fill="#a5a5a5"/>
<rect x="163.21" y="1050.30" width="27.60" height="59.80" fill="#a5a5a5"/>
<rect x="217.02" y="1055.13" width="27.60" height="54.97" fill="#a5a5a5"/>
<rect x="270.83" y="1050.30" width="27.60" height="59.80" fill="#a5a5a5"/>
<rect x="324.64" y="1049.19" width="27.60" height="60.91" fill="#a5a5a5"/>
<rect x="378.45" y="1036.93" width="27.60" height="73.17" fill="#a5a5a5"/>
<rect x="432.26" y="999.05" width="27.60" height="111.05" fill="#a5a5a5"/>
<rect x="486.07" y="967.11" width="27.60" height="142.99" fill="#a5a5a5"/>
<rect x="539.88" y="976.40" width="27.60" height="133.70" fill="#a5a5a5"/>
<rect x="593.69" y="1050.30" width="27.60" height="59.80" fill="#a5a5a5"/>
<rect x="647.50" y="1041.02" width="27.60" height="69.08" fill="#a5a5a5"/>
<rect x="701.31" y="1035.82" width="27.60" height="74.28" fill="#a5a5a5"/>
<rect x="755.12" y="1026.53" width="27.60" height="83.57" fill="#a5a5a5"/>
<rect x="808.93" y="1016.14" width="27.60" height="93.96" fill="#a5a5a5"/>
<rect x="862.74" y="1010.19" width="27.60" height="99.91" fill="#a5a5a5"/>
<rect x="916.55" y="1050.30" width="27.60" height="59.80" fill="#a5a5a5"/>
<rect x="970.36" y="1041.02" width="27.60" height="69.08" fill="#a5a5a5"/>
<rect x="1024.17" y="1029.51" width="27.60" height="80.59" fill="#a5a5a5"/>
<rect x="1077.98" y="1026.53" width="27.60" height="83.57" fill="#a5a5a5"/>
<rect x="1131.79" y="1016.88" width="27.60" height="93.22" fill="#a5a5a5"/>
<rect x="1185.60" y="1015.02" width="27.60" height="95.08" fill="#a5a5a5"/>
<path d="M123.20 1046.59V1054.02M117.70 1046.59H128.70M117.70 1054.02H128.70" stroke="#000" stroke-width="3.0" fill="none"/>
<path d="M230.82 1050.68V1059.59M225.32 1050.68H236.32M225.32 1059.59H236.32" stroke="#000" stroke-width="3.0" fill="none"/>
<path d="M284.63 1045.48V1055.13M279.13 1045.48H290.13M279.13 1055.13H290.13" stroke="#000" stroke-width="3.0" fill="none"/>
<path d="M392.25 995.71V1078.16M386.75 995.71H397.75M386.75 1078.16H397.75" stroke="#000" stroke-width="3.0" fill="none"/>
<path d="M446.06 951.51V1046.59M440.56 951.51H451.56M440.56 1046.59H451.56" stroke="#000" stroke-width="3.0" fill="none"/>
<path d="M499.87 937.77V996.45M494.37 937.77H505.37M494.37 996.45H505.37" stroke="#000" stroke-width="3.0" fill="none"/>
<path d="M553.68 939.63V1013.16M548.18 939.63H559.18M548.18 1013.16H559.18" stroke="#000" stroke-width="3.0" fill="none"/>
<path d="M607.49 1045.48V1055.13M601.99 1045.48H612.99M601.99 1055.13H612.99" stroke="#000" stroke-width="3.0" fill="none"/>
<path d="M661.30 1032.48V1049.56M655.80 1032.48H666.80M655.80 1049.56H666.80" stroke="#000" stroke-width="3.0" fill="none"/>
<path d="M715.11 1012.42V1059.22M709.61 1012.42H720.61M709.61 1059.22H720.61" stroke="#000" stroke-width="3.0" fill="none"/>
<path d="M768.92 1018.36V1034.71M763.42 1018.36H774.42M763.42 1034.71H774.42" stroke="#000" stroke-width="3.0" fill="none"/>
<path d="M822.73 1003.14V1029.13M817.23 1003.14H828.23M817.23 1029.13H828.23" stroke="#000" stroke-width="3.0" fill="none"/>
<path d="M876.54 994.59V1025.79M871.04 994.59H882.04M871.04 1025.79H882.04" stroke="#000" stroke-width="3.0" fill="none"/>
<path d="M930.35 1045.48V1055.13M924.85 1045.48H935.85M924.85 1055.13H935.85" stroke="#000" stroke-width="3.0" fill="none"/>
<path d="M984.16 1035.08V1046.96M978.66 1035.08H989.66M978.66 1046.96H989.66" stroke="#000" stroke-width="3.0" fill="none"/>
<path d="M1037.97 1016.51V1042.51M1032.47 1016.51H1043.47M1032.47 1042.51H1043.47" stroke="#000" stroke-width="3.0" fill="none"/>
<path d="M1091.78 1014.28V1038.79M1086.28 1014.28H1097.28M1086.28 1038.79H1097.28" stroke="#000" stroke-width="3.0" fill="none"/>
<path d="M1145.59 1012.05V1021.71M1140.09 1012.05H1151.09M1140.09 1021.71H1151.09" stroke="#000" stroke-width="3.0" fill="none"/>
<path d="M1199.40 1006.48V1023.56M1193.90 1006.48H1204.90M1193.90 1023.56H1204.90" stroke="#000" stroke-width="3.0" fill="none"/>
<rect x="130.90" y="1048.45" width="26.60" height="61.65" fill="#fff" stroke="#303030" stroke-width="2.0" stroke-linejoin="round"/>
<rect x="184.71" y="1041.39" width="26.60" height="68.71" fill="#fff" stroke="#303030" stroke-width="2.0" stroke-linejoin="round"/>
<rect x="238.52" y="1048.82" width="26.60" height="61.28" fill="#fff" stroke="#303030" stroke-width="2.0" stroke-linejoin="round"/>
<rect x="292.33" y="1049.19" width="26.60" height="60.91" fill="#fff" stroke="#303030" stroke-width="2.0" stroke-linejoin="round"/>
<rect x="346.14" y="981.22" width="26.60" height="128.88" fill="#fff" stroke="#303030" stroke-width="2.0" stroke-linejoin="round"/>
<rect x="399.95" y="974.54" width="26.60" height="135.56" fill="#fff" stroke="#303030" stroke-width="2.0" stroke-linejoin="round"/>
<rect x="453.76" y="965.63" width="26.60" height="144.47" fill="#fff" stroke="#303030" stroke-width="2.0" stroke-linejoin="round"/>
<rect x="507.57" y="969.34" width="26.60" height="140.76" fill="#fff" stroke="#303030" stroke-width="2.0" stroke-linejoin="round"/>
<rect x="561.38" y="973.80" width="26.60" height="136.30" fill="#fff" stroke="#303030" stroke-width="2.0" stroke-linejoin="round"/>
<rect x="615.19" y="1049.19" width="26.60" height="60.91" fill="#fff" stroke="#303030" stroke-width="2.0" stroke-linejoin="round"/>
<rect x="669.00" y="1045.85" width="26.60" height="64.25" fill="#fff" stroke="#303030" stroke-width="2.0" stroke-linejoin="round"/>
<rect x="722.81" y="1031.73" width="26.60" height="78.37" fill="#fff" stroke="#303030" stroke-width="2.0" stroke-linejoin="round"/>
<rect x="776.62" y="1012.79" width="26.60" height="97.31" fill="#fff" stroke="#303030" stroke-width="2.0" stroke-linejoin="round"/>
<rect x="830.43" y="1015.39" width="26.60" height="94.71" fill="#fff" stroke="#303030" stroke-width="2.0" stroke-linejoin="round"/>
<rect x="884.24" y="1010.94" width="26.60" height="99.16" fill="#fff" stroke="#303030" stroke-width="2.0" stroke-linejoin="round"/>
<path d="M144.20 1047.33V1049.56M138.45 1047.33H149.95M138.45 1049.56H149.95" stroke="#7a7a7a" stroke-width="2.8" fill="none"/>
<path d="M198.01 1029.13V1053.65M192.26 1029.13H203.76M192.26 1053.65H203.76" stroke="#7a7a7a" stroke-width="2.8" fill="none"/>
<path d="M305.63 1036.56V1061.82M299.88 1036.56H311.38M299.88 1061.82H311.38" stroke="#7a7a7a" stroke-width="2.8" fill="none"/>
<path d="M359.44 961.91V1000.54M353.69 961.91H365.19M353.69 1000.54H365.19" stroke="#7a7a7a" stroke-width="2.8" fill="none"/>
<path d="M413.25 963.40V985.68M407.50 963.40H419.00M407.50 985.68H419.00" stroke="#7a7a7a" stroke-width="2.8" fill="none"/>
<path d="M467.06 954.48V976.77M461.31 954.48H472.81M461.31 976.77H472.81" stroke="#7a7a7a" stroke-width="2.8" fill="none"/>
<path d="M520.87 960.80V977.88M515.12 960.80H526.62M515.12 977.88H526.62" stroke="#7a7a7a" stroke-width="2.8" fill="none"/>
<path d="M574.68 966.74V980.85M568.93 966.74H580.43M568.93 980.85H580.43" stroke="#7a7a7a" stroke-width="2.8" fill="none"/>
<path d="M628.49 1036.56V1061.82M622.74 1036.56H634.24M622.74 1061.82H634.24" stroke="#7a7a7a" stroke-width="2.8" fill="none"/>
<path d="M736.11 1022.45V1041.02M730.36 1022.45H741.86M730.36 1041.02H741.86" stroke="#7a7a7a" stroke-width="2.8" fill="none"/>
<path d="M789.92 1003.88V1021.71M784.17 1003.88H795.67M784.17 1021.71H795.67" stroke="#7a7a7a" stroke-width="2.8" fill="none"/>
<path d="M843.73 1007.96V1022.82M837.98 1007.96H849.48M837.98 1022.82H849.48" stroke="#7a7a7a" stroke-width="2.8" fill="none"/>
<path d="M897.54 984.57V1037.31M891.79 984.57H903.29M891.79 1037.31H903.29" stroke="#7a7a7a" stroke-width="2.8" fill="none"/>
<path d="M132.91 1110.10 L186.72 1110.10 L240.53 1110.10 L294.34 1110.10 L348.14 1110.10 L401.96 1097.10 L455.76 1061.45 L509.58 1025.79 L563.38 1038.05 L617.20 1110.10 L671.00 1103.79 L724.82 1092.27 L778.62 1085.96 L832.44 1077.79 L886.25 1072.22 L940.06 1110.10 L993.87 1099.70 L1047.68 1088.56 L1101.49 1084.84 L1155.30 1073.33 L1209.11 1073.33" stroke="#888888" stroke-width="3.8" fill="none" stroke-linejoin="round"/>
<path d="M132.91 1110.10 L186.72 1110.10 L240.53 1110.10 L294.34 1110.10 L348.14 1041.02 L401.96 1035.45 L455.76 1027.28 L509.58 1029.51 L563.38 1034.71 L617.20 1110.10 L671.00 1104.53 L724.82 1091.53 L778.62 1074.07 L832.44 1075.19 L886.25 1071.10" stroke="#000" stroke-width="5.3" fill="none" stroke-linecap="round" stroke-linejoin="round" stroke-dasharray="0 10.2"/>
<path d="M132.91 1110.10 L186.72 1110.10 L240.53 1110.10 L294.34 1110.10 L348.14 1069.62 L401.96 1020.22 L455.76 1003.88 L509.58 993.11 L563.38 987.91 L617.20 1110.10 L671.00 1095.62 L724.82 1090.04 L778.62 1072.22 L832.44 1051.42 L886.25 1051.42 L940.06 1110.10 L993.87 1104.53 L1047.68 1101.56 L1101.49 1098.22 L1155.30 1084.84 L1209.11 1076.30" stroke="#000" stroke-width="4.7" fill="none" stroke-linejoin="round"/>
<path d="M106.80 886.30V1231.00M106.80 1110.10H1236.01V1231.00" stroke="#000" stroke-width="3.3" fill="none"/>
<line x1="267.43" y1="1110.10" x2="267.43" y2="1231.00" stroke="#000" stroke-width="3.3"/>
<line x1="590.29" y1="1110.10" x2="590.29" y2="1231.00" stroke="#000" stroke-width="3.3"/>
<line x1="913.15" y1="1110.10" x2="913.15" y2="1231.00" stroke="#000" stroke-width="3.3"/>
<line x1="96.80" y1="1110.10" x2="116.80" y2="1110.10" stroke="#000" stroke-width="3.3"/>
<line x1="96.80" y1="1072.10" x2="116.80" y2="1072.10" stroke="#000" stroke-width="3.3"/>
<line x1="96.80" y1="1034.80" x2="116.80" y2="1034.80" stroke="#000" stroke-width="3.3"/>
<line x1="96.80" y1="999.10" x2="116.80" y2="999.10" stroke="#000" stroke-width="3.3"/>
<line x1="96.80" y1="961.40" x2="116.80" y2="961.40" stroke="#000" stroke-width="3.3"/>
<line x1="96.80" y1="924.20" x2="116.80" y2="924.20" stroke="#000" stroke-width="3.3"/>
<line x1="96.80" y1="887.80" x2="116.80" y2="887.80" stroke="#000" stroke-width="3.3"/>
<text x="76.90" y="1120.67" font-family="Liberation Sans" font-size="29" text-anchor="end">0</text>
<text x="76.90" y="1082.67" font-family="Liberation Sans" font-size="29" text-anchor="end">10</text>
<text x="76.90" y="1045.37" font-family="Liberation Sans" font-size="29" text-anchor="end">20</text>
<text x="76.90" y="1009.67" font-family="Liberation Sans" font-size="29" text-anchor="end">30</text>
<text x="76.90" y="971.97" font-family="Liberation Sans" font-size="29" text-anchor="end">40</text>
<text x="76.90" y="934.77" font-family="Liberation Sans" font-size="29" text-anchor="end">50</text>
<text x="76.90" y="898.37" font-family="Liberation Sans" font-size="29" text-anchor="end">60</text>
<text transform="translate(133.91,1162.50) scale(1,1.15)" font-family="Liberation Sans" font-size="28" fill="#000" text-anchor="middle">0</text>
<text transform="translate(187.72,1162.50) scale(1,1.15)" font-family="Liberation Sans" font-size="28" fill="#000" text-anchor="middle">60</text>
<text transform="translate(241.53,1162.50) scale(1,1.15)" font-family="Liberation Sans" font-size="28" fill="#000" text-anchor="middle">120</text>
<text transform="translate(295.34,1162.50) scale(1,1.15)" font-family="Liberation Sans" font-size="28" fill="#000" text-anchor="middle">0</text>
<text transform="translate(349.14,1162.50) scale(1,1.15)" font-family="Liberation Sans" font-size="28" fill="#000" text-anchor="middle">15</text>
<text transform="translate(402.96,1162.50) scale(1,1.15)" font-family="Liberation Sans" font-size="28" fill="#000" text-anchor="middle">30</text>
<text transform="translate(456.76,1162.50) scale(1,1.15)" font-family="Liberation Sans" font-size="28" fill="#000" text-anchor="middle">45</text>
<text transform="translate(510.58,1162.50) scale(1,1.15)" font-family="Liberation Sans" font-size="28" fill="#000" text-anchor="middle">60</text>
<text transform="translate(564.38,1162.50) scale(1,1.15)" font-family="Liberation Sans" font-size="28" fill="#000" text-anchor="middle">90</text>
<text transform="translate(618.20,1162.50) scale(1,1.15)" font-family="Liberation Sans" font-size="28" fill="#000" text-anchor="middle">0</text>
<text transform="translate(672.00,1162.50) scale(1,1.15)" font-family="Liberation Sans" font-size="28" fill="#000" text-anchor="middle">15</text>
<text transform="translate(725.82,1162.50) scale(1,1.15)" font-family="Liberation Sans" font-size="28" fill="#000" text-anchor="middle">30</text>
<text transform="translate(779.62,1162.50) scale(1,1.15)" font-family="Liberation Sans" font-size="28" fill="#000" text-anchor="middle">45</text>
<text transform="translate(833.44,1162.50) scale(1,1.15)" font-family="Liberation Sans" font-size="28" fill="#000" text-anchor="middle">60</text>
<text transform="translate(887.25,1162.50) scale(1,1.15)" font-family="Liberation Sans" font-size="28" fill="#000" text-anchor="middle">90</text>
<text transform="translate(941.06,1162.50) scale(1,1.15)" font-family="Liberation Sans" font-size="28" fill="#000" text-anchor="middle">0</text>
<text transform="translate(994.87,1162.50) scale(1,1.15)" font-family="Liberation Sans" font-size="28" fill="#000" text-anchor="middle">15</text>
<text transform="translate(1048.68,1162.50) scale(1,1.15)" font-family="Liberation Sans" font-size="28" fill="#000" text-anchor="middle">30</text>
<text transform="translate(1102.49,1162.50) scale(1,1.15)" font-family="Liberation Sans" font-size="28" fill="#000" text-anchor="middle">45</text>
<text transform="translate(1156.30,1162.50) scale(1,1.15)" font-family="Liberation Sans" font-size="28" fill="#000" text-anchor="middle">60</text>
<text transform="translate(1210.11,1162.50) scale(1,1.15)" font-family="Liberation Sans" font-size="28" fill="#000" text-anchor="middle">90</text>
<text x="24.43" y="1157.00" font-family="Liberation Sans" font-size="24.5" fill="#333" textLength="56.82" lengthAdjust="spacingAndGlyphs" style="stroke:#333">Time</text>
<text x="151.67" y="1222.50" font-family="Liberation Sans" font-size="29" fill="#000" textLength="78.97" lengthAdjust="spacingAndGlyphs" >- drug</text>
<text x="376.61" y="1222.50" font-family="Liberation Sans" font-size="29" fill="#000" textLength="45.05" lengthAdjust="spacingAndGlyphs" >+ H</text>
<text x="421.66" y="1222.50" font-family="Liberation Sans" font-size="22" fill="#000" textLength="12.00" lengthAdjust="spacingAndGlyphs" >2</text>
<text x="433.66" y="1222.50" font-family="Liberation Sans" font-size="29" fill="#000" textLength="22.12" lengthAdjust="spacingAndGlyphs" >O</text>
<text x="455.78" y="1222.50" font-family="Liberation Sans" font-size="22" fill="#000" textLength="12.00" lengthAdjust="spacingAndGlyphs" >2</text>
<text x="705.25" y="1222.50" font-family="Liberation Sans" font-size="29" fill="#000" textLength="96.48" lengthAdjust="spacingAndGlyphs" >+ MMC</text>
<text x="1025.56" y="1222.50" font-family="Liberation Sans" font-size="29" fill="#000" textLength="93.58" lengthAdjust="spacingAndGlyphs" >+ MMS</text>
<text x="12.71" y="903.20" font-family="Liberation Sans" font-size="43.5" fill="#000" textLength="26.70" lengthAdjust="spacingAndGlyphs" style="stroke:none">C</text>
<text transform="translate(25.80,1098.80) rotate(-90)" x="0" y="0" font-family="Liberation Sans" font-size="30" textLength="178.40" lengthAdjust="spacingAndGlyphs">YFP+ cells (%)</text>
<rect x="305.10" y="397.80" width="57.70" height="16.00" fill="#000"/>
<text x="371.23" y="416.40" font-family="Liberation Sans" font-size="28" fill="#000" textLength="33.50" lengthAdjust="spacingAndGlyphs" >wt</text>
<rect x="443.70" y="398.50" width="57.70" height="16.20" fill="#fff" stroke="#333" stroke-width="2.2"/>
<text x="508.42" y="416.40" font-family="Liberation Sans" font-size="28" fill="#000" textLength="19.50" lengthAdjust="spacingAndGlyphs" >Δ</text>
<text x="527.93" y="416.40" font-family="Liberation Sans" font-style="italic" font-size="28" fill="#000" textLength="61.64" lengthAdjust="spacingAndGlyphs" >recU</text>
<path d="M615.90 405.80H677.90" stroke="#6c6c6c" stroke-width="3.9"/>
<text x="683.63" y="416.40" font-family="Liberation Sans" font-size="28" fill="#000" textLength="61.18" lengthAdjust="spacingAndGlyphs" >wt(i)</text>
<path d="M784.10 406.60H835.60" stroke="#000" stroke-width="5.1" stroke-linecap="round" stroke-dasharray="0 8.563"/>
<text x="848.63" y="416.40" font-family="Liberation Sans" font-size="28" fill="#000" textLength="19.39" lengthAdjust="spacingAndGlyphs" >Δ</text>
<text x="868.02" y="416.40" font-family="Liberation Sans" font-style="italic" font-size="28" fill="#000" textLength="61.30" lengthAdjust="spacingAndGlyphs" >recU</text>
<text x="929.32" y="416.40" font-family="Liberation Sans" font-size="28" fill="#000" textLength="25.79" lengthAdjust="spacingAndGlyphs" >(i)</text>
<rect x="163.00" y="830.50" width="57.40" height="16.50" fill="#fff" stroke="#3a3a3a" stroke-width="2.0"/>
<text x="225.55" y="849.20" font-family="Liberation Serif" font-style="italic" font-size="31" fill="#000" textLength="93.72" lengthAdjust="spacingAndGlyphs" >recF15</text>
<rect x="350.30" y="831.00" width="55.30" height="16.00" fill="#a5a5a5"/>
<text x="412.71" y="849.20" font-family="Liberation Sans" font-size="28" fill="#000" textLength="19.91" lengthAdjust="spacingAndGlyphs" >Δ</text>
<text x="432.61" y="849.20" font-family="Liberation Serif" font-style="italic" font-size="31" fill="#000" textLength="64.74" lengthAdjust="spacingAndGlyphs" >recO</text>
<path d="M525.20 838.40H578.10" stroke="#000" stroke-width="5.1" stroke-linecap="round" stroke-dasharray="0 8.797"/>
<text x="589.95" y="849.20" font-family="Liberation Serif" font-style="italic" font-size="31" fill="#000" textLength="94.12" lengthAdjust="spacingAndGlyphs" >recF15</text>
<text x="684.07" y="849.20" font-family="Liberation Sans" font-size="28" fill="#000" textLength="26.49" lengthAdjust="spacingAndGlyphs" >(i)</text>
<path d="M738.00 838.40H795.70" stroke="#888888" stroke-width="3.8"/>
<text x="804.41" y="849.20" font-family="Liberation Sans" font-size="28" fill="#000" textLength="19.88" lengthAdjust="spacingAndGlyphs" >Δ</text>
<text x="824.28" y="849.20" font-family="Liberation Serif" font-style="italic" font-size="31" fill="#000" textLength="64.64" lengthAdjust="spacingAndGlyphs" >recO</text>
<text x="888.92" y="849.20" font-family="Liberation Sans" font-size="28" fill="#000" textLength="26.43" lengthAdjust="spacingAndGlyphs" >(i)</text>
<path d="M942.30 838.40H1000.00" stroke="#000" stroke-width="4.7"/>
<text x="1008.80" y="849.20" font-family="Liberation Serif" font-style="italic" font-size="31" fill="#000" textLength="31.35" lengthAdjust="spacingAndGlyphs" >wt</text>
<text x="1040.15" y="849.20" font-family="Liberation Sans" font-size="28" fill="#000" textLength="26.61" lengthAdjust="spacingAndGlyphs" >(i)</text>
<rect x="179.20" y="1261.60" width="58.20" height="15.20" fill="#a5a5a5"/>
<text x="243.21" y="1278.50" font-family="Liberation Sans" font-size="28" fill="#000" textLength="19.72" lengthAdjust="spacingAndGlyphs" >Δ</text>
<text x="262.94" y="1278.50" font-family="Liberation Serif" font-style="italic" font-size="31" fill="#000" textLength="80.48" lengthAdjust="spacingAndGlyphs" >recD2</text>
<rect x="353.30" y="1260.20" width="58.60" height="15.60" fill="#fff" stroke="#3a3a3a" stroke-width="2.0"/>
<text x="419.19" y="1278.50" font-family="Liberation Sans" font-size="28" fill="#000" textLength="20.17" lengthAdjust="spacingAndGlyphs" >Δ</text>
<text x="439.36" y="1278.50" font-family="Liberation Serif" font-style="italic" font-size="31" fill="#000" textLength="61.86" lengthAdjust="spacingAndGlyphs" >recX</text>
<path d="M523.90 1267.60H585.90" stroke="#888888" stroke-width="3.8"/>
<text x="590.81" y="1278.50" font-family="Liberation Sans" font-size="28" fill="#000" textLength="19.77" lengthAdjust="spacingAndGlyphs" >Δ</text>
<text x="610.58" y="1278.50" font-family="Liberation Serif" font-style="italic" font-size="31" fill="#000" textLength="80.67" lengthAdjust="spacingAndGlyphs" >recD2</text>
<text x="691.25" y="1278.50" font-family="Liberation Sans" font-size="28" fill="#000" textLength="26.29" lengthAdjust="spacingAndGlyphs" >(i)</text>
<path d="M729.60 1268.00H779.60" stroke="#000" stroke-width="5.1" stroke-linecap="round" stroke-dasharray="0 8.313"/>
<text x="792.60" y="1278.50" font-family="Liberation Sans" font-size="28" fill="#000" textLength="20.02" lengthAdjust="spacingAndGlyphs" >Δ</text>
<text x="812.62" y="1278.50" font-family="Liberation Serif" font-style="italic" font-size="31" fill="#000" textLength="61.42" lengthAdjust="spacingAndGlyphs" >recX</text>
<text x="874.04" y="1278.50" font-family="Liberation Sans" font-size="28" fill="#000" textLength="26.62" lengthAdjust="spacingAndGlyphs" >(i)</text>
<path d="M924.80 1268.00H986.80" stroke="#000" stroke-width="4.7"/>
<text x="993.21" y="1278.50" font-family="Liberation Serif" font-style="italic" font-size="31" fill="#000" textLength="31.06" lengthAdjust="spacingAndGlyphs" >wt</text>
<text x="1024.27" y="1278.50" font-family="Liberation Sans" font-size="28" fill="#000" textLength="26.37" lengthAdjust="spacingAndGlyphs" >(i)</text>
</g>
</svg></body></html>
